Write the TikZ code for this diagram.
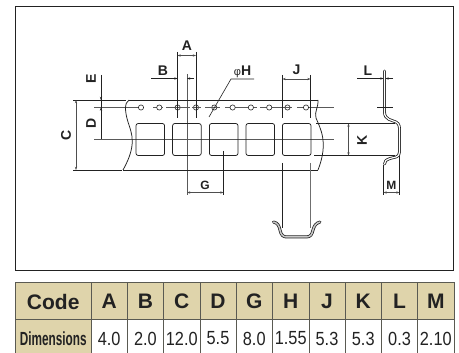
\documentclass[tikz,border=0pt]{standalone}
\usepackage{fontspec}
\setmainfont{Liberation Sans}
\usetikzlibrary{arrows.meta}
\definecolor{tan}{HTML}{DFD4AB}
\definecolor{ink}{HTML}{222222}
\definecolor{gridc}{HTML}{5A5A52}
\tikzset{
  thin line/.style={draw=ink,line width=.6pt},
  center line/.style={draw=ink!75,line width=.7pt},
  outline/.style={draw=ink,line width=.75pt},
  dim/.style={draw=ink!80,line width=.5pt,{Stealth[length=3.2pt,width=2.2pt]}-{Stealth[length=3.2pt,width=2.2pt]}},
  dimlabel/.style={font=\fontsize{14}{14}\selectfont\bfseries,text=ink,inner sep=0pt},
  smalllabel/.style={font=\fontsize{12}{12}\selectfont\bfseries,text=ink,inner sep=0pt},
  hcell/.style={fill=tan,draw=gridc,line width=1pt,minimum height=37pt,inner sep=0pt,font=\fontsize{21}{21}\selectfont\bfseries,text=ink},
  vcell/.style={fill=white,draw=gridc,line width=1pt,minimum height=37pt,inner sep=0pt,font=\fontsize{19}{19}\selectfont,text=ink},
  square/.style={outline,rounded corners=2.2pt},
  hole/.style={circle,draw=ink,line width=.6pt,fill=white,minimum size=5.2pt,inner sep=0pt}
}
\begin{document}
\begin{tikzpicture}[x=1pt,y=-1pt]
\useasboundingbox (0,0) rectangle (459,353);
\fill[white] (0,0) rectangle (459,353);
\draw[draw=ink,line width=.8pt] (15,6) rectangle (453,270);

% extension and centre lines behind the tape
\draw[center line] (94,107.5) -- (138,107.5) (153,107.5) -- (163,107.5) (166,107.5) -- (190,107.5) (192,107.5)--(201,107.5)
  (205,107.5) -- (220,107.5) (225,107.5) -- (242,107.5) (239,107.5)--(257,107.5) (260,107.5) -- (292,107.5) (297,107.5) -- (334,107.5);
\draw[center line] (94,139.5) -- (334,139.5);
\draw[center line] (187,74) -- (187,195);
\draw[thin line] (73,100) -- (126,100);
\draw[thin line] (73,170) -- (122,170);

% tape outline
\draw[outline] (129,100) -- (318,100);
\draw[outline] (123,170) -- (318,170);
\draw[outline] (129,100) .. controls (124,103) and (125,112) .. (128,122) .. controls (132,134) and (137,145) .. (123,170);
\draw[outline] (318,100) .. controls (319,106) and (314,112) .. (316,118) .. controls (320,128) and (329,142) .. (318,170);

% sprocket holes
\foreach \n/\x in {1/141,2/159.3,3/177.6,4/196,5/214.3,6/232.6,7/250.9,8/269.2,9/287.5,10/306}
  \node[hole] (h\n) at (\x,107.5) {};
\draw[center line] (h3.west) -- (h3.east) (h4.west) -- (h4.east) (h5.west) -- (h5.east) (h9.west)--(h9.east);

% pockets
\foreach \n/\x in {1/136,2/172.6,3/209.4,4/246,5/282.4}
  \draw[square] (\x,123.5) rectangle ++(28.6,32);

% dimension A
\draw[thin line] (177.5,52) -- (177.5,118);
\draw[thin line] (196,52) -- (196,118);
\draw[dim] (177.5,55.5) -- (196,55.5);
\node[dimlabel] (la) at (187,46) {A};
% dimension B
\draw[draw=ink,line width=.5pt,-{Stealth[length=3.2pt,width=2.2pt]}] (151,78.5) -- (177.5,78.5);
\draw[draw=ink,line width=.5pt,-{Stealth[length=3.2pt,width=2.2pt]}] (194,78.5) -- (187,78.5);
\node[dimlabel] (lb) at (163,71) {B};
% phi H
\draw[thin line] (209,117) -- (231,79) -- (254,79);
\node[dimlabel,anchor=base] (lh) at (242.5,75.5) {{\fontsize{11}{11}\selectfont\mdseries φ}H};
% dimension J
\draw[thin line] (282.5,75) -- (282.5,118);
\draw[thin line] (310.5,75) -- (310.5,118);
\draw[dim] (282.5,79) -- (310.5,79);
\node[dimlabel] (lj) at (296.5,70) {J};
% C
\draw[dim] (76,100) -- (76,170);
\node[dimlabel,rotate=90] (lc) at (66,135) {C};
% D and E
\draw[thin line] (101,75) -- (101,139);
\node[dimlabel,rotate=90] (le) at (91,79) {E};
\node[dimlabel,rotate=90] (ld) at (91,123) {D};
\draw[draw=ink,line width=.5pt,-{Stealth[length=3.2pt,width=2.2pt]}] (101,92) -- (101,100);
\draw[draw=ink,line width=.5pt,-{Stealth[length=3.2pt,width=2.2pt]}] (101,120) -- (101,107.5);
% G
\draw[thin line] (223.5,151) -- (223.5,195);
\draw[dim] (187,192.5) -- (223.5,192.5);
\node[smalllabel] (lg) at (205,185) {G};

% lower projection lines
\draw[thin line] (282.5,163) -- (282.5,228);
\draw[draw=ink!65,line width=.7pt] (310.5,163) -- (310.5,228);

% K
\draw[thin line] (316,123.5) -- (395,123.5);
\draw[thin line] (314,155.5) -- (395,155.5);
\draw[dim] (348.5,123.5) -- (348.5,155.5);
\node[dimlabel,rotate=90] (lk) at (362,140) {K};

% side profile
\draw[draw=ink,line width=2.8pt,line join=round,line cap=round]
  (384.5,71) -- (384.5,112) .. controls (384.5,120) and (392,120) .. (396,122) .. controls (400,124) and (399.5,128) .. (399.5,132)
  -- (399.5,152) .. controls (399.5,158) and (394,157) .. (390,158.5) .. controls (386,160) and (384.5,161) .. (384.5,164);
\draw[draw=white,line width=1.2pt,line join=round,line cap=round]
  (384.5,71) -- (384.5,112) .. controls (384.5,120) and (392,120) .. (396,122) .. controls (400,124) and (399.5,128) .. (399.5,132)
  -- (399.5,152) .. controls (399.5,158) and (394,157) .. (390,158.5) .. controls (386,160) and (384.5,161) .. (384.5,164);
% L
\draw[draw=ink,line width=.5pt,-{Stealth[length=3.2pt,width=2.2pt]}] (357,78.5) -- (383.5,78.5);
\draw[draw=ink,line width=.5pt,-{Stealth[length=3.2pt,width=2.2pt]}] (393,78.5) -- (385.5,78.5);
\node[dimlabel] (ll) at (368,71) {L};
\draw[thin line] (377,107.5) -- (393,107.5);
% M
\draw[thin line] (383.5,165) -- (383.5,195);
\draw[thin line] (399.5,156) -- (399.5,195);
\draw[dim] (383.5,192.5) -- (399.5,192.5);
\node[smalllabel] (lm) at (391.3,185) {M};

% U profile
\draw[draw=ink,line width=3pt,line join=round,line cap=round]
  (273.5,222) .. controls (278,223) and (279,226) .. (280,230) .. controls (281,235) and (283,237) .. (287,237)
  -- (306,237) .. controls (311,237) and (312,234) .. (313,230) .. controls (314,226) and (316,223) .. (320,222);
\draw[draw=ink!25,line width=1.5pt,line join=round,line cap=round]
  (273.5,222) .. controls (278,223) and (279,226) .. (280,230) .. controls (281,235) and (283,237) .. (287,237)
  -- (306,237) .. controls (311,237) and (312,234) .. (313,230) .. controls (314,226) and (316,223) .. (320,222);

% table
\node[hcell,minimum width=76.3pt] (code) at (53.2,301.5) {Code};
\node[vcell,fill=tan,minimum width=76.3pt] (dims) at (53.2,338.5) {\fontsize{19}{19}\selectfont\bfseries\scalebox{.62}[1]{Dimensions}};
\foreach \n/\xa/\xb/\v in {A/91/127.3/4.0,B/127.3/163.6/2.0,C/163.6/200/12.0,D/200/236/5.5,G/236/272.5/8.0,H/272.5/309/1.55,J/309/345/5.3,K/345/381.5/5.3,L/381.5/417.6/0.3,M/417.6/454/2.10}{
  \pgfmathsetmacro{\cx}{(\xa+\xb)/2}
  \pgfmathsetmacro{\cw}{\xb-\xa}
  \node[hcell,minimum width=\cw pt] (c\n) at (\cx,301.5) {\n};
  \node[vcell,minimum width=\cw pt] (v\n) at (\cx,338.5) {\scalebox{.86}[1]{\v}};
}
\end{tikzpicture}
\end{document}
